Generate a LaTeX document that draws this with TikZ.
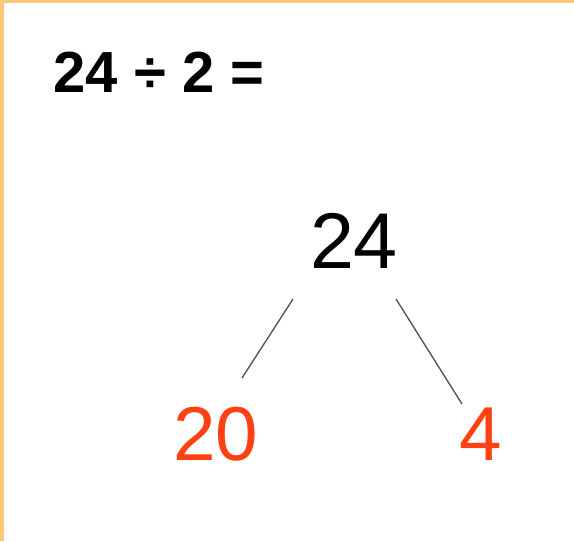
\documentclass[tikz,border=0pt]{standalone}
\usepackage{fontspec}
\setmainfont{Liberation Sans}
\usetikzlibrary{positioning}
\definecolor{framecol}{HTML}{FFC878}
\definecolor{partred}{HTML}{FF4012}
\definecolor{stemgray}{HTML}{505050}

\tikzset{
    whole/.style={inner sep=0, font=\fontsize{45}{50}\selectfont},
    part/.style={inner sep=0, text=partred, font=\fontsize{43.5}{48}\selectfont},
    stem/.style={stemgray, line width=0.75pt}
}

\begin{document}
\begin{tikzpicture}[x=0.02cm, y=-0.02cm]
    \useasboundingbox (0,0) rectangle (574,541);
    \fill[white] (0,0) rectangle (574,541);
    \fill[framecol] (0,0) rectangle (574,2.5);
    \fill[framecol] (0,0) rectangle (4,541);
    \node[inner sep=0, font=\fontsize{33}{36}\selectfont\bfseries] (sum) at (159,72) {24 ÷ 2 =};
    \node[whole] (top) at (354,241) {24};
    \node[part] (left) at (216,434) {20};
    \node[part] (right) at (481,434) {4};
    % partition stems
    \coordinate (topL) at (293,299);
    \coordinate (topR) at (396,299);
    \coordinate (leftT) at (242,378);
    \coordinate (rightT) at (462,404);
    \draw[stem] (topL) -- (leftT);
    \draw[stem] (topR) -- (rightT);
\end{tikzpicture}
\end{document}
